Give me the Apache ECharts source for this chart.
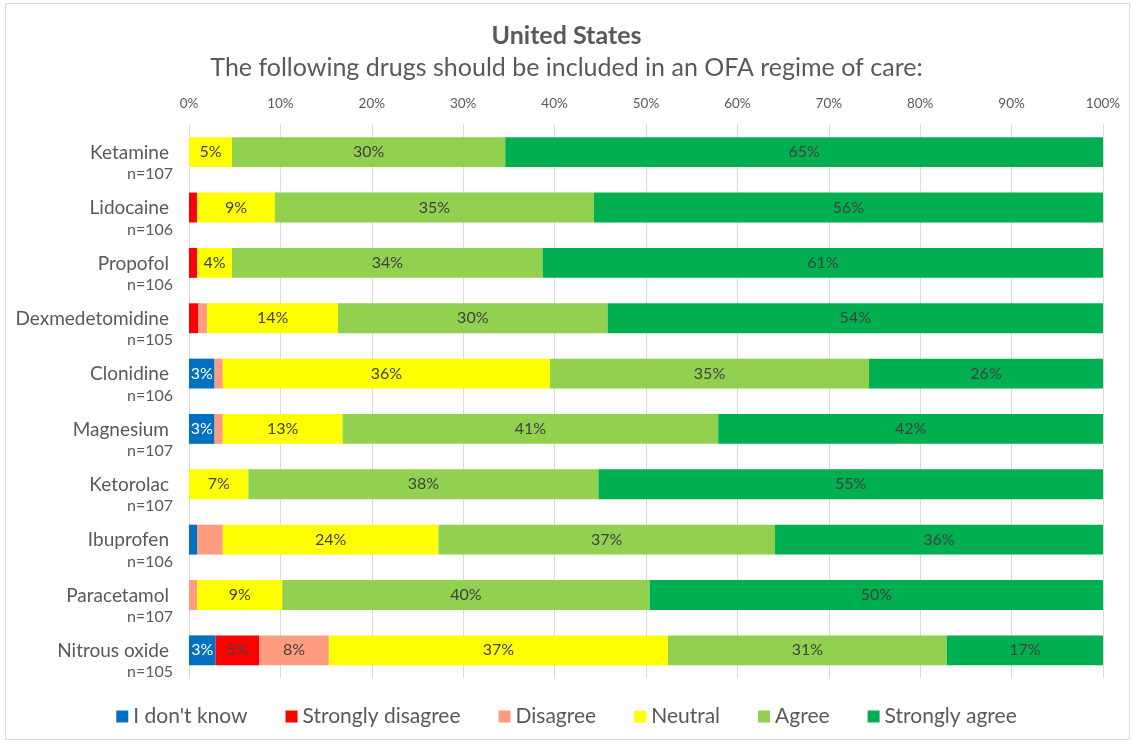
<!DOCTYPE html>
<html>
<head>
<meta charset="utf-8">
<script src="https://cdn.jsdelivr.net/npm/echarts@6/dist/echarts.min.js"></script>
<style>
  html, body { margin: 0; padding: 0; background: #fff; }
  #main { width: 1133px; height: 743px; }
</style>
</head>
<body>
<div id="main"></div>
<script>
// data (percent of respondents)
var drugs = ['Ketamine', 'Lidocaine', 'Propofol', 'Dexmedetomidine', 'Clonidine',
  'Magnesium', 'Ketorolac', 'Ibuprofen', 'Paracetamol', 'Nitrous oxide']
var respondents = [107, 106, 106, 105, 106, 107, 107, 106, 107, 105]
var dontKnow = [0, 0, 0, 0, 2.8, 2.8, 0, 0.9, 0, 2.9]
var stronglyDisagree = [0, 0.9, 0.9, 1.0, 0, 0, 0, 0, 0, 4.8]
var disagree = [0, 0, 0, 1.0, 0.9, 0.9, 0, 2.8, 0.9, 7.6]
var neutral = [4.7, 8.5, 3.8, 14.3, 35.8, 13.1, 6.5, 23.6, 9.3, 37.1]
var agree = [29.9, 34.9, 34.0, 29.5, 34.9, 41.1, 38.3, 36.8, 40.2, 30.5]
var stronglyAgree = [65.4, 55.7, 61.3, 54.2, 25.6, 42.1, 55.2, 35.9, 49.6, 17.1]

var FONT = 'Lato, "Liberation Sans", sans-serif'
var GREY = '#595959'

var seriesDefs = [
  { name: "I don't know", data: dontKnow, color: '#0070C0', labelColor: '#ffffff', minLabel: 2.5 },
  { name: 'Strongly disagree', data: stronglyDisagree, color: '#FF0000', labelColor: '#404040', minLabel: 2.5 },
  { name: 'Disagree', data: disagree, color: '#FF9B7E', labelColor: '#404040', minLabel: 5 },
  { name: 'Neutral', data: neutral, color: '#FFFF00', labelColor: '#404040', minLabel: 2.5 },
  { name: 'Agree', data: agree, color: '#92D050', labelColor: '#404040', minLabel: 2.5 },
  { name: 'Strongly agree', data: stronglyAgree, color: '#00B050', labelColor: '#404040', minLabel: 2.5 }
]

var myChart = echarts.init(document.getElementById('main'))
myChart.setOption({
  animation: false,
  textStyle: { fontFamily: FONT },
  title: [
    {
      text: 'United States',
      left: 'center',
      top: 18,
      textStyle: { fontFamily: FONT, fontSize: 25, fontWeight: 'bold', color: GREY }
    },
    {
      text: 'The following drugs should be included in an OFA regime of care:',
      left: 'center',
      top: 50,
      textStyle: { fontFamily: FONT, fontSize: 25, fontWeight: 'normal', color: GREY }
    }
  ],
  graphic: [
    {
      type: 'rect',
      shape: { x: 5.5, y: 3.5, width: 1124, height: 736 },
      style: { fill: 'none', stroke: '#d9d9d9', lineWidth: 1 },
      silent: true
    }
  ],
  legend: {
    bottom: 11,
    left: 'center',
    itemWidth: 12,
    itemHeight: 12,
    itemGap: 38,
    icon: 'rect',
    textStyle: { fontFamily: FONT, fontSize: 21, color: GREY }
  },
  grid: {
    left: 189,
    right: 30,
    top: 124.5,
    bottom: 65
  },
  xAxis: {
    type: 'value',
    position: 'top',
    min: 0,
    max: 100,
    interval: 10,
    axisLine: { show: false },
    axisTick: { show: false },
    axisLabel: {
      formatter: '{value}%',
      fontFamily: FONT,
      fontSize: 13.5,
      color: GREY,
      margin: 14
    },
    splitLine: { lineStyle: { color: '#d9d9d9', width: 1 } }
  },
  yAxis: {
    type: 'category',
    inverse: true,
    data: drugs,
    axisLine: { show: false },
    axisTick: { show: false },
    axisLabel: {
      margin: 16,
      padding: [21, 0, 0, 0],
      formatter: function (val, i) {
        return '{a|' + val + '}\n{b|n=' + respondents[i] + '}'
      },
      rich: {
        a: { fontFamily: FONT, fontSize: 19, color: GREY, lineHeight: 23, align: 'right', padding: [0, 4, 0, 0] },
        b: { fontFamily: FONT, fontSize: 16, color: GREY, lineHeight: 20, align: 'right' }
      }
    }
  },
  series: seriesDefs.map(function (s) {
    return {
      name: s.name,
      type: 'bar',
      stack: 'total',
      barWidth: '54%',
      data: s.data,
      itemStyle: { color: s.color },
      label: {
        show: true,
        position: 'inside',
        fontFamily: FONT,
        fontSize: 16,
        color: s.labelColor,
        formatter: function (p) {
          return p.value >= s.minLabel ? Math.round(p.value) + '%' : ''
        }
      }
    }
  })
})
</script>
</body>
</html>
